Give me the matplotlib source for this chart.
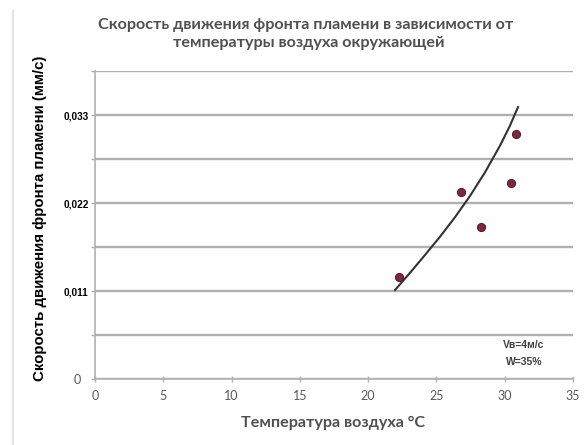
import matplotlib
matplotlib.use("Agg")
import matplotlib.pyplot as plt
from matplotlib.lines import Line2D
from matplotlib.transforms import ScaledTranslation

# Measured flame-front speed vs. ambient air temperature
temp_points = [22.25, 26.8, 28.25, 30.45, 30.8]
speed_points = [0.0128, 0.0234, 0.0191, 0.0245, 0.0307]

# Approximating curve
temp_curve = [21.97, 23.07, 24.16, 25.26, 26.36, 27.46, 28.56, 29.66, 30.39, 30.97]
speed_curve = [0.01116, 0.01332, 0.01553, 0.01782, 0.02026, 0.02292,
               0.02588, 0.02922, 0.03172, 0.03402]

x_ticks = [0, 5, 10, 15, 20, 25, 30, 35]
y_grid = [0, 0.0055, 0.011, 0.0165, 0.022, 0.0275, 0.033, 0.0385]
y_labels = ["0", "", "0,011", "", "0,022", "", "0,033", ""]

title_lines = ["Скорость движения фронта пламени в зависимости от",
               "температуры воздуха окружающей"]
x_title = "Температура воздуха °С"
y_title = "Скорость движения фронта пламени (мм/с)"
note_lines = ["Vв=4м/с", "W=35%"]

SOFT = ["Lato", "DejaVu Sans"]
BOLD = ["Liberation Sans", "DejaVu Sans"]
GRAY = "#595959"
AXIS = "#b0b0b0"

W, H = 584, 445
fig = plt.figure(figsize=(W / 100, H / 100), dpi=100)
fig.patch.set_facecolor("white")

# thin frame line on the left, as in the exported chart
fig.add_artist(Line2D([12.5 / W, 12.5 / W], [0, 1 - 11 / H],
                      transform=fig.transFigure, color="#e4e4e4", lw=1.5))

ax = fig.add_axes([95 / W, 1 - 379.3 / H, 478 / W, 308 / H])
ax.set_xlim(0, 35)
ax.set_ylim(0, 0.0385)

ax.set_xticks(x_ticks)
ax.set_xticklabels([str(t) for t in x_ticks])
ax.set_yticks(y_grid)
ax.set_yticklabels(y_labels)

ax.yaxis.grid(True, color="#b0b0b0", linewidth=1.7)
ax.set_axisbelow(True)
for side in ("top", "right"):
    ax.spines[side].set_visible(False)
for side in ("left", "bottom"):
    ax.spines[side].set_color(AXIS)
    ax.spines[side].set_linewidth(1.2)

ax.tick_params(axis="x", direction="inout", length=4, width=1, color=AXIS,
               labelsize=9, labelcolor=GRAY, pad=6)
ax.tick_params(axis="y", direction="out", length=3, width=1, color=AXIS, pad=1.5)

for lab in ax.get_xticklabels():
    lab.set_family(SOFT)
for lab, val in zip(ax.get_yticklabels(), y_grid):
    if val == 0:
        lab.set_family(SOFT)
        lab.set_color(GRAY)
        lab.set_fontsize(9)
        lab.set_transform(lab.get_transform()
                          + ScaledTranslation(-6 / 72, 0, fig.dpi_scale_trans))
    else:
        lab.set_family(BOLD)
        lab.set_fontweight("bold")
        lab.set_color("black")
        lab.set_fontsize(7.2)

ax.plot(temp_curve, speed_curve, color="#333333", lw=1.5, zorder=3,
        solid_joinstyle="round")
ax.plot(temp_points, speed_points, "o", ms=5.8, mfc="#7b2a3c", mec="#5c1c2b",
        mew=0.8, zorder=4)

# titles
fig.text(306 / W, 1 - 25 / H, title_lines[0], ha="center", va="center",
         family=SOFT, fontweight="bold", fontsize=11.6, color="#505050")
fig.text(309 / W, 1 - 42.5 / H, title_lines[1], ha="center", va="center",
         family=SOFT, fontweight="bold", fontsize=11.6, color="#505050")
fig.text(333 / W, 1 - 423 / H, x_title, ha="center", va="center",
         family=SOFT, fontweight="bold", fontsize=11.6, color="#505050")
fig.text(40 / W, 1 - 218 / H, y_title, ha="center", va="center", rotation=90,
         family=BOLD, fontweight="bold", fontsize=10.8, color="black")
for line, y in zip(note_lines, [345, 362]):
    fig.text(524 / W, 1 - y / H, line, ha="center", va="center",
             family=BOLD, fontweight="bold", fontsize=7.5, color="#404040")

fig.savefig("out.png", dpi=100, facecolor="white")
